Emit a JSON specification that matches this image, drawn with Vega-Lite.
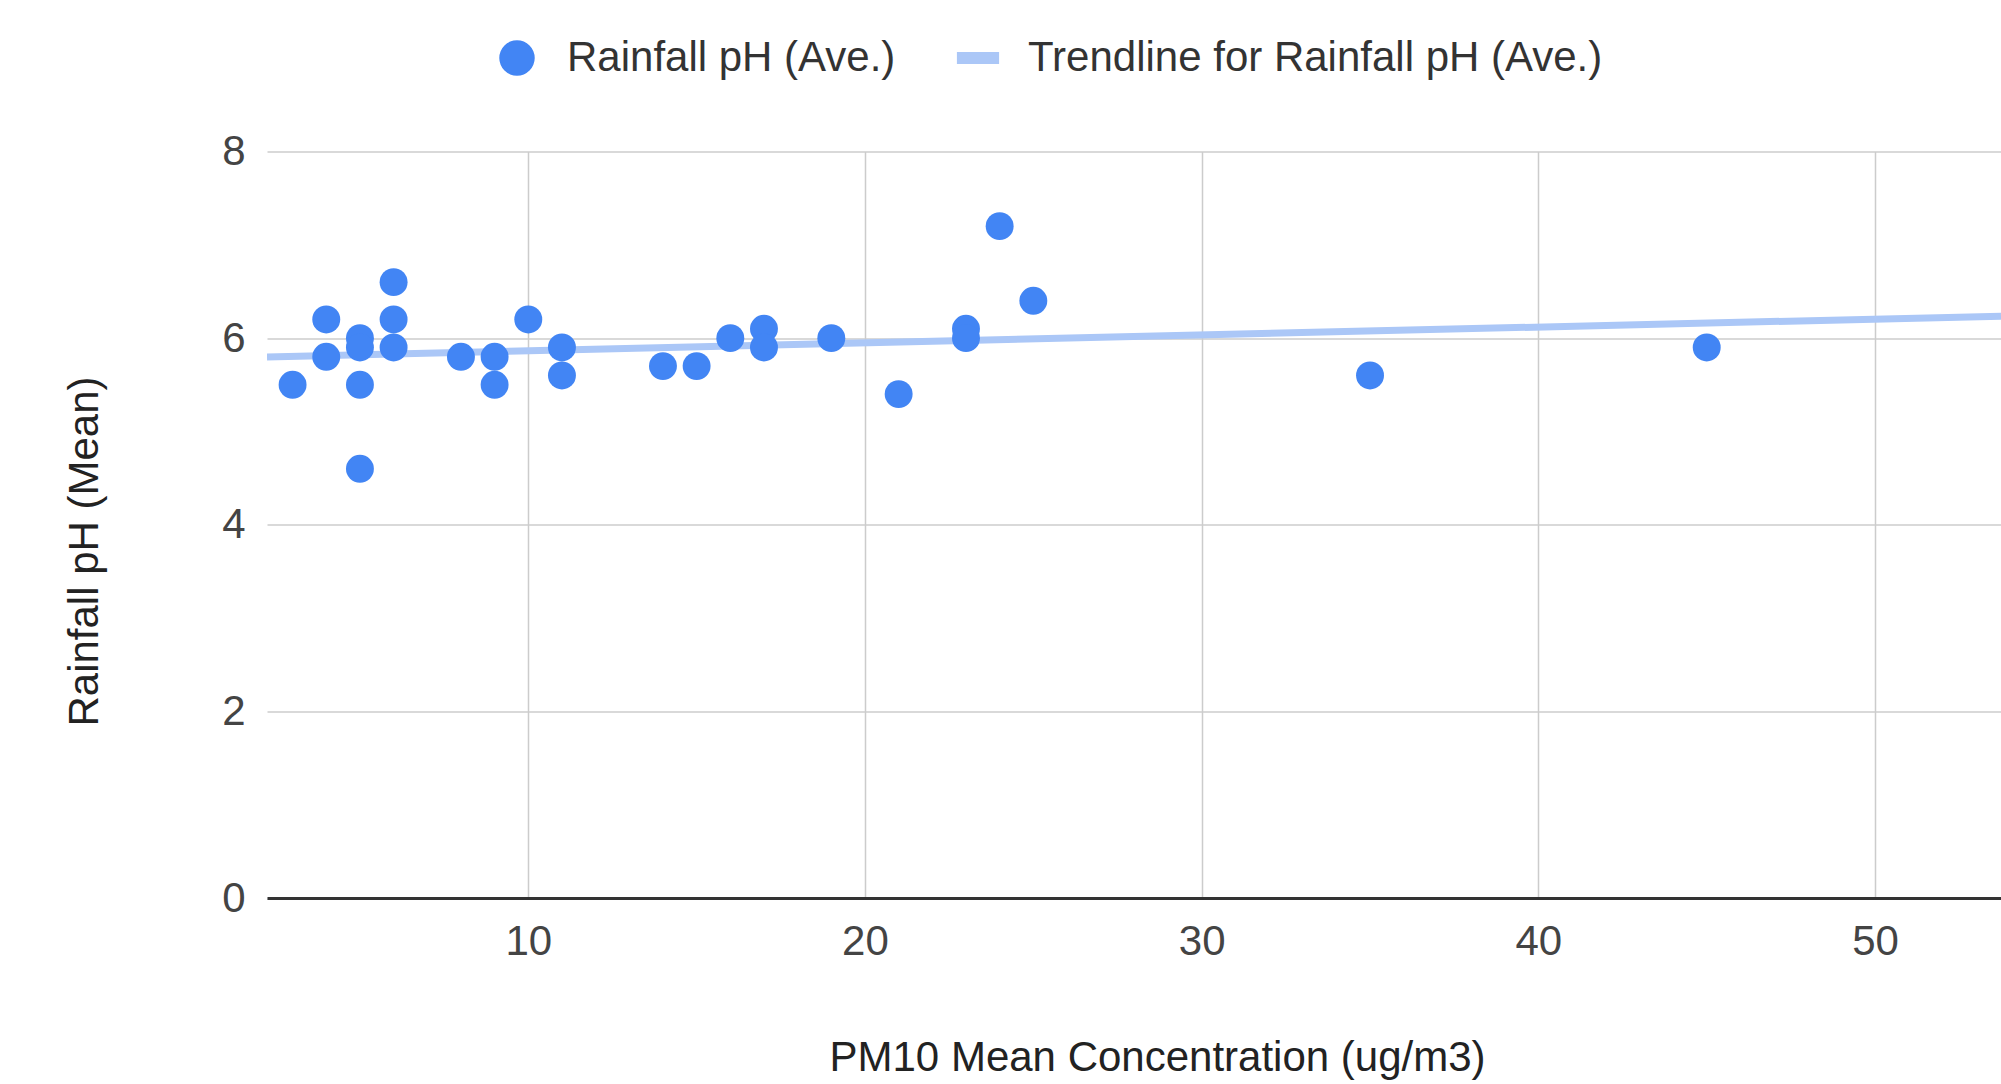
{
  "$schema": "https://vega.github.io/schema/vega-lite/v6.json",
  "autosize": "none",
  "width": 1734,
  "height": 746.5,
  "padding": {"left": 267, "top": 151.5, "right": 0, "bottom": 186},
  "background": "white",
  "config": {
    "view": {"stroke": null},
    "font": "Liberation Sans",
    "legend": {
      "orient": "none",
      "direction": "horizontal",
      "legendX": 229,
      "legendY": -114.5,
      "padding": 0,
      "symbolSize": 1257,
      "labelFont": "Liberation Sans",
      "labelFontSize": 42,
      "labelColor": "#333333",
      "labelOffset": 29,
      "columnPadding": 60,
      "labelLimit": 1000
    }
  },
  "data": {
    "values": [
      {"pm10": 3, "ph": 5.5, "series": "Rainfall pH (Ave.)", "trend": "Trendline for Rainfall pH (Ave.)"},
      {"pm10": 4, "ph": 6.2, "series": "Rainfall pH (Ave.)", "trend": "Trendline for Rainfall pH (Ave.)"},
      {"pm10": 4, "ph": 5.8, "series": "Rainfall pH (Ave.)", "trend": "Trendline for Rainfall pH (Ave.)"},
      {"pm10": 5, "ph": 6.0, "series": "Rainfall pH (Ave.)", "trend": "Trendline for Rainfall pH (Ave.)"},
      {"pm10": 5, "ph": 5.9, "series": "Rainfall pH (Ave.)", "trend": "Trendline for Rainfall pH (Ave.)"},
      {"pm10": 5, "ph": 5.5, "series": "Rainfall pH (Ave.)", "trend": "Trendline for Rainfall pH (Ave.)"},
      {"pm10": 5, "ph": 4.6, "series": "Rainfall pH (Ave.)", "trend": "Trendline for Rainfall pH (Ave.)"},
      {"pm10": 6, "ph": 6.6, "series": "Rainfall pH (Ave.)", "trend": "Trendline for Rainfall pH (Ave.)"},
      {"pm10": 6, "ph": 6.2, "series": "Rainfall pH (Ave.)", "trend": "Trendline for Rainfall pH (Ave.)"},
      {"pm10": 6, "ph": 5.9, "series": "Rainfall pH (Ave.)", "trend": "Trendline for Rainfall pH (Ave.)"},
      {"pm10": 8, "ph": 5.8, "series": "Rainfall pH (Ave.)", "trend": "Trendline for Rainfall pH (Ave.)"},
      {"pm10": 9, "ph": 5.8, "series": "Rainfall pH (Ave.)", "trend": "Trendline for Rainfall pH (Ave.)"},
      {"pm10": 9, "ph": 5.5, "series": "Rainfall pH (Ave.)", "trend": "Trendline for Rainfall pH (Ave.)"},
      {"pm10": 10, "ph": 6.2, "series": "Rainfall pH (Ave.)", "trend": "Trendline for Rainfall pH (Ave.)"},
      {"pm10": 11, "ph": 5.9, "series": "Rainfall pH (Ave.)", "trend": "Trendline for Rainfall pH (Ave.)"},
      {"pm10": 11, "ph": 5.6, "series": "Rainfall pH (Ave.)", "trend": "Trendline for Rainfall pH (Ave.)"},
      {"pm10": 14, "ph": 5.7, "series": "Rainfall pH (Ave.)", "trend": "Trendline for Rainfall pH (Ave.)"},
      {"pm10": 15, "ph": 5.7, "series": "Rainfall pH (Ave.)", "trend": "Trendline for Rainfall pH (Ave.)"},
      {"pm10": 16, "ph": 6.0, "series": "Rainfall pH (Ave.)", "trend": "Trendline for Rainfall pH (Ave.)"},
      {"pm10": 17, "ph": 6.1, "series": "Rainfall pH (Ave.)", "trend": "Trendline for Rainfall pH (Ave.)"},
      {"pm10": 17, "ph": 5.9, "series": "Rainfall pH (Ave.)", "trend": "Trendline for Rainfall pH (Ave.)"},
      {"pm10": 19, "ph": 6.0, "series": "Rainfall pH (Ave.)", "trend": "Trendline for Rainfall pH (Ave.)"},
      {"pm10": 21, "ph": 5.4, "series": "Rainfall pH (Ave.)", "trend": "Trendline for Rainfall pH (Ave.)"},
      {"pm10": 23, "ph": 6.1, "series": "Rainfall pH (Ave.)", "trend": "Trendline for Rainfall pH (Ave.)"},
      {"pm10": 23, "ph": 6.0, "series": "Rainfall pH (Ave.)", "trend": "Trendline for Rainfall pH (Ave.)"},
      {"pm10": 24, "ph": 7.2, "series": "Rainfall pH (Ave.)", "trend": "Trendline for Rainfall pH (Ave.)"},
      {"pm10": 25, "ph": 6.4, "series": "Rainfall pH (Ave.)", "trend": "Trendline for Rainfall pH (Ave.)"},
      {"pm10": 35, "ph": 5.6, "series": "Rainfall pH (Ave.)", "trend": "Trendline for Rainfall pH (Ave.)"},
      {"pm10": 45, "ph": 5.9, "series": "Rainfall pH (Ave.)", "trend": "Trendline for Rainfall pH (Ave.)"}
    ]
  },
  "encoding": {
    "x": {
      "field": "pm10",
      "type": "quantitative",
      "scale": {"domain": [2.24, 53.74], "nice": false, "zero": false},
      "axis": {
        "title": "PM10 Mean Concentration (ug/m3)",
        "values": [10, 20, 30, 40, 50],
        "ticks": false,
        "domain": true,
        "domainColor": "#333333",
        "domainWidth": 3,
        "grid": true,
        "gridColor": "#cccccc",
        "gridWidth": 1.5,
        "labelFont": "Liberation Sans",
        "labelFontSize": 42,
        "labelColor": "#444444",
        "labelPadding": 23,
        "labelFlush": false,
        "titleFont": "Liberation Sans",
        "titleFontSize": 42,
        "titleFontWeight": "normal",
        "titleColor": "#222222",
        "titleX": 890,
        "titleY": 172,
        "titleBaseline": "alphabetic",
        "titleAlign": "center"
      }
    },
    "y": {
      "field": "ph",
      "type": "quantitative",
      "scale": {"domain": [0, 8], "nice": false, "zero": true},
      "axis": {
        "title": "Rainfall pH (Mean)",
        "values": [0, 2, 4, 6, 8],
        "ticks": false,
        "domain": false,
        "grid": true,
        "gridColor": "#cccccc",
        "gridWidth": 1.5,
        "labelFont": "Liberation Sans",
        "labelFontSize": 42,
        "labelColor": "#444444",
        "labelPadding": 22,
        "labelFlush": false,
        "titleFont": "Liberation Sans",
        "titleFontSize": 42,
        "titleFontWeight": "normal",
        "titleColor": "#222222",
        "titleAngle": -90,
        "titleX": -170,
        "titleY": 399.5,
        "titleBaseline": "alphabetic",
        "titleAlign": "center"
      }
    }
  },
  "layer": [
    {
      "transform": [
        {"regression": "ph", "on": "pm10", "groupby": ["trend"], "extent": [2.24, 53.74]}
      ],
      "mark": {"type": "line", "strokeWidth": 7, "clip": true},
      "encoding": {
        "color": {
          "field": "trend",
          "type": "nominal",
          "scale": {
            "domain": ["Rainfall pH (Ave.)", "Trendline for Rainfall pH (Ave.)"],
            "range": ["#4285f4", "#abc7f7"]
          },
          "legend": {
            "title": null,
            "values": ["Rainfall pH (Ave.)", "Trendline for Rainfall pH (Ave.)"],
            "symbolType": "circle",
            "encode": {
              "symbols": {
                "update": {
                  "shape": {"signal": "datum.value === 'Rainfall pH (Ave.)' ? 'circle' : 'M-1.19,-0.34H1.19V0.34H-1.19Z'"},
                  "fill": {"signal": "datum.value === 'Rainfall pH (Ave.)' ? '#4285f4' : '#abc7f7'"},
                  "stroke": {"value": "transparent"},
                  "strokeWidth": {"value": 0},
                  "opacity": {"value": 1}
                }
              }
            }
          }
        }
      }
    },
    {
      "mark": {"type": "point", "filled": true, "opacity": 1, "size": 780, "shape": "circle"},
      "encoding": {
        "color": {
          "field": "series",
          "type": "nominal",
          "scale": {
            "domain": ["Rainfall pH (Ave.)", "Trendline for Rainfall pH (Ave.)"],
            "range": ["#4285f4", "#abc7f7"]
          },
          "legend": {
            "title": null,
            "values": ["Rainfall pH (Ave.)", "Trendline for Rainfall pH (Ave.)"],
            "symbolType": "circle",
            "encode": {
              "symbols": {
                "update": {
                  "shape": {"signal": "datum.value === 'Rainfall pH (Ave.)' ? 'circle' : 'M-1.19,-0.34H1.19V0.34H-1.19Z'"},
                  "fill": {"signal": "datum.value === 'Rainfall pH (Ave.)' ? '#4285f4' : '#abc7f7'"},
                  "stroke": {"value": "transparent"},
                  "strokeWidth": {"value": 0},
                  "opacity": {"value": 1}
                }
              }
            }
          }
        }
      }
    }
  ]
}
